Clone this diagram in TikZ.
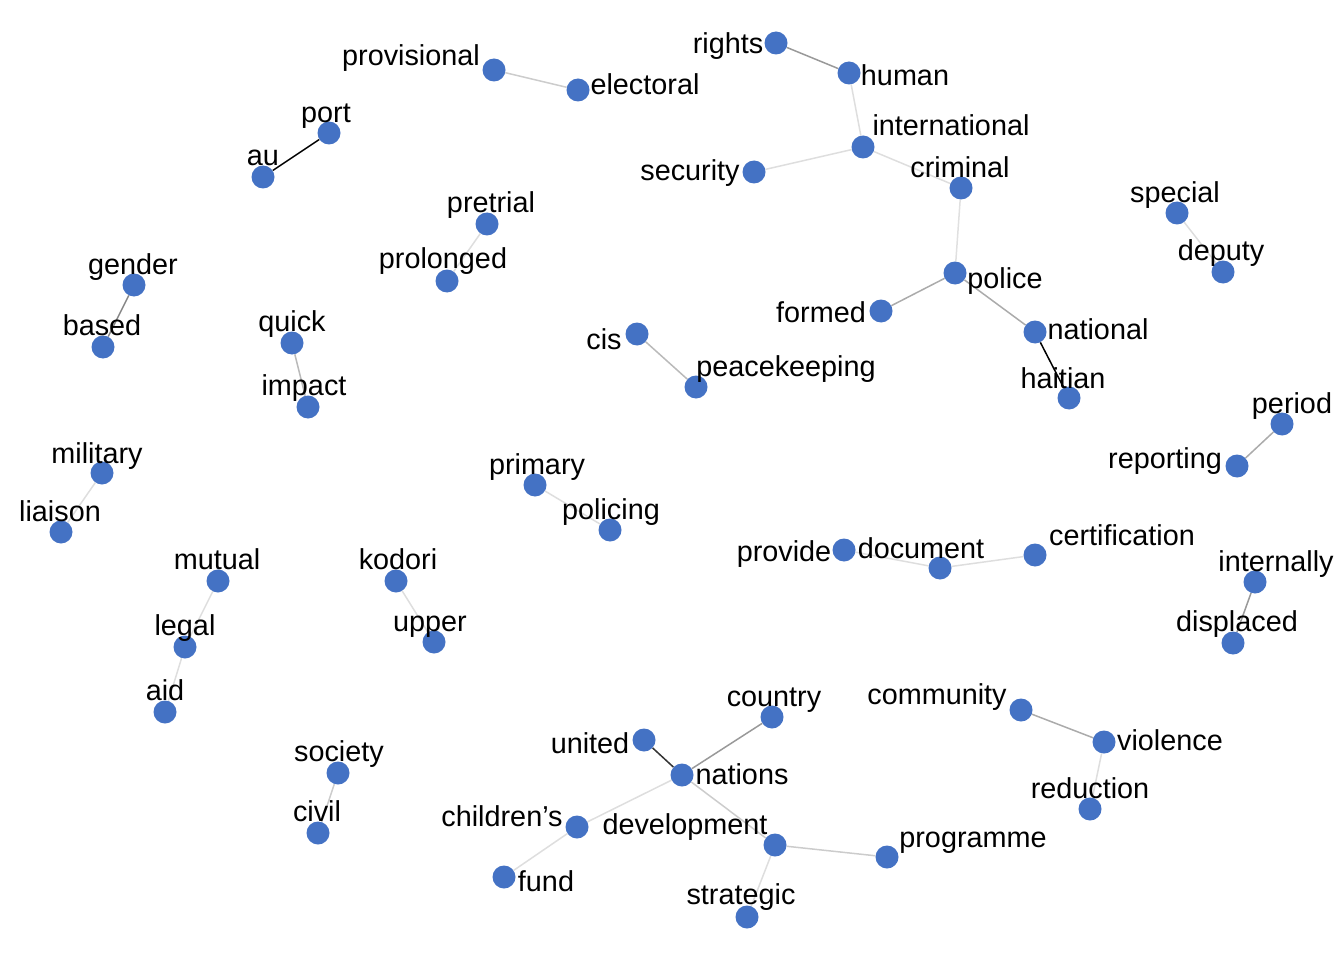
\documentclass[tikz,border=0pt]{standalone}
\usepackage{fontspec}
\setmainfont{Liberation Sans}
\usepackage{xcolor}
\usepackage{tikz}
\usetikzlibrary{backgrounds}
\definecolor{wordblue}{HTML}{4472C4}

\begin{document}
\begin{tikzpicture}[
    x = 1pt, y = -1pt,
    word/.style={
        circle, % shape
        fill = wordblue,
        inner sep = 0pt,
        minimum size = 23pt %size
      },
    lbl/.style={
        anchor = base,
        inner sep = 0pt,
        yshift = -1.5pt,
        font = \fontsize{28.8}{30}\selectfont %font
      },
    link/.style={line width = 1.5pt, draw = black!#1}]
  \useasboundingbox (0,0) rectangle (1344,960);
  % points
  \foreach \n/\x/\y in {provisional/494/70, electoral/578/90, rights/776/43,
      human/849/73, international/863/147, security/754/172, criminal/961/188,
      police/955/273, formed/881/311, national/1035/332, haitian/1069/398,
      port/329/133, au/263/177, pretrial/487/224, prolonged/447/281,
      gender/134/285, based/103/347, quick/292/343, impact/308/407,
      cis/637/334, peacekeeping/696/387, special/1177/213, deputy/1223/272,
      period/1282/424, reporting/1237/466, military/102/473, liaison/61/532,
      primary/535/485, policing/610/530, mutual/218/581, legal/185/647,
      aid/165/712, kodori/396/581, upper/434/642, provide/844/550,
      document/940/568, certification/1035/555, internally/1255/582,
      displaced/1233/643, country/772/717, united/644/740, nations/682/775,
      childrens/577/827, fund/504/877, development/775/845, strategic/747/917,
      programme/887/857, community/1021/710, violence/1104/742,
      reduction/1090/809, society/338/773, civil/318/833}
    \node [word] (\n) at (\x,\y) {};
  % bigrams
  \begin{scope}[on background layer]
    \foreach \a/\b/\g in {provisional/electoral/20, au/port/100,
        rights/human/40, human/international/13, international/security/13,
        international/criminal/13, criminal/police/12, police/formed/33,
        police/national/33, national/haitian/100, pretrial/prolonged/13,
        gender/based/47, quick/impact/27, cis/peacekeeping/27,
        special/deputy/13, period/reporting/33, military/liaison/13,
        primary/policing/13, mutual/legal/13, legal/aid/13, kodori/upper/13,
        provide/document/13, document/certification/13,
        internally/displaced/40, united/nations/80, nations/country/40,
        nations/childrens/13, nations/development/20, childrens/fund/13,
        development/strategic/13, development/programme/20,
        community/violence/33, violence/reduction/13, society/civil/20}
      \draw [link=\g] (\a) -- (\b);
  \end{scope}
  % labels
  \foreach \n/\x/\y/\t in {provisional/411/64/provisional,
      electoral/645/93/electoral, rights/728/52/rights, human/905/84/human,
      international/951/134/international, security/690/179/security,
      criminal/960/176/criminal, police/1005/287/police, formed/821/321/formed,
      national/1098/338/national, haitian/1063/387/haitian, port/326/121/port,
      au/263/164/au, pretrial/491/211/pretrial, prolonged/443/267/prolonged,
      gender/133/273/gender, based/102/334/based, quick/292/330/quick,
      impact/304/394/impact, cis/604/348/cis, peacekeeping/786/375/peacekeeping,
      special/1175/201/special, deputy/1221/259/deputy, period/1292/412/period,
      reporting/1165/467/reporting, military/97/462/military,
      liaison/60/520/liaison, primary/537/473/primary, policing/611/518/policing,
      mutual/217/568/mutual, kodori/398/568/kodori, legal/185/634/legal,
      upper/430/630/upper, aid/165/699/aid, provide/784/560/provide,
      document/921/557/document, certification/1122/544/certification,
      internally/1276/570/internally, displaced/1237/630/displaced,
      country/774/705/country, united/590/752/united, nations/742/783/nations,
      childrens/502/825/children’s, development/685/833/development,
      fund/546/890/fund, strategic/741/903/strategic,
      programme/973/846/programme, community/937/703/community,
      violence/1170/749/violence, reduction/1090/797/reduction,
      society/339/760/society, civil/317/820/civil}
    \node [lbl] (\n-l) at (\x,\y) {\t};
\end{tikzpicture}
\end{document}
